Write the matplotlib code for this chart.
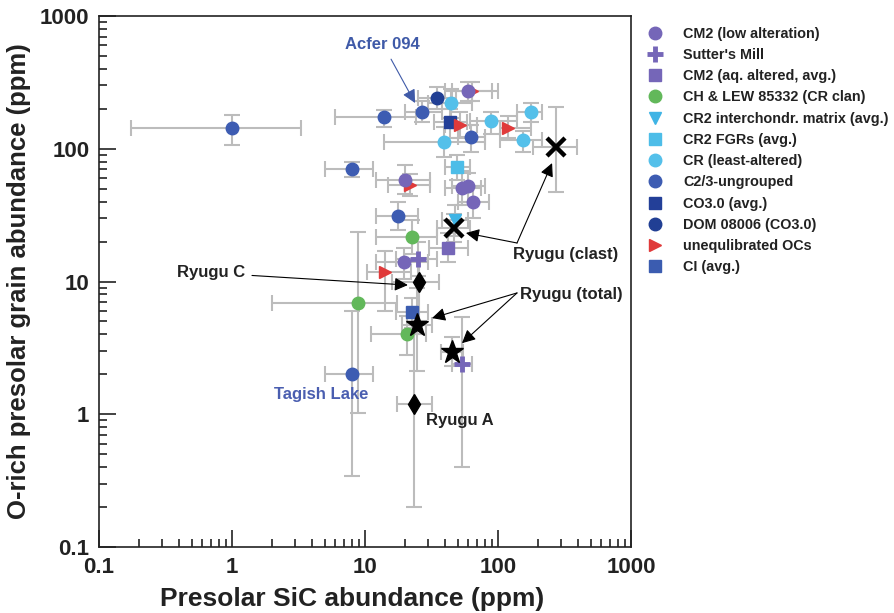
# Presolar O-rich grain vs SiC abundance (log-log) with Ryugu samples

import numpy as np
import matplotlib.pyplot as plt

plt.rcParams['font.family'] = ['Liberation Sans', 'DejaVu Sans']
plt.rcParams['font.weight'] = 'bold'

# Datos: (SiC, O-rich, SiC_min, SiC_max, O_min, O_max)  ppm
cm2_low = [(60, 272, 40, 100, 230, 320), (20, 58, 12, 31, 46, 76),
           (54, 51, 40, 75, 38, 68), (60, 52, 45, 80, 40, 66),
           (65, 40, 50, 85, 30, 52), (19.7, 14, 12, 30, 10.5, 18)]
sutters_mill = [(25, 14.8, 17, 35, 11, 20), (54, 2.4, 45, 64, 0.4, 5.4)]
cm2_aq = [(42, 17.9, 30.5, 60, 14, 23)]
ch_lew = [(22.6, 21.6, 12, 35, 16, 29), (8.9, 6.9, 2.0, 17.4, 1.02, 23.5),
          (20.7, 4.0, 11, 29, 2.8, 5.5)]
cr2_matrix = [(47.5, 29, 38, 60, 22, 38)]
cr2_fgr = [(49, 73, 40, 62, 58, 90)]
cr_least = [(44, 221, 30, 64, 170, 280), (39, 112, 14, 80, 87, 146),
            (89, 162, 62, 140, 130, 190), (177, 189, 140, 215, 158, 220),
            (154, 116, 103, 215, 95, 135)]
c23_ungr = [(1.0, 143, 0.174, 3.3, 107, 180), (13.9, 173, 5.9, 24, 146, 196),
            (26.8, 189, 20, 38, 160, 230), (8.0, 70, 5.0, 11.5, 61, 80),
            (17.7, 31, 12, 25, 24.5, 40), (8.0, 2.0, 5.0, 11.5, 0.34, 6),
            (63, 122, 50, 80, 95, 150)]
co30_avg = [(43.6, 159, 33, 58, 120, 200)]
dom08006 = [(35, 241, 25, 48, 200, 290)]
uocs = [(64, 270, 45, 90, 230, 320), (52, 151, 40, 70, 120, 190),
        (119, 143, 103, 177, 120, 175), (21.8, 53, 15, 31, 44, 64),
        (14.1, 11.8, 10.3, 22, 6, 17)]
ci_avg = [(22.6, 5.9, 17, 30, 4.5, 7.5)]

ryugu_clast = [(273, 103, 183, 393, 47, 206), (46.7, 25.3, 35, 62, 20, 32)]
ryugu_total = [(24.6, 4.7, 19, 32, 2.1, 9), (45, 2.94, 37, 55, 2.3, 3.8)]
ryugu_c = [(25.5, 9.9, 16, 36, 5, 15)]
ryugu_a = [(23.4, 1.19, 17.4, 31.9, 0.2, 4)]

ticks = [0.1, 1, 10, 100, 1000]
tick_labels = ['0.1', '1', '10', '100', '1000']

gris = '#bcbcbc'
texto = '#222222'

fig = plt.figure(figsize=(8.94, 6.13), dpi=100)
ax = fig.add_axes([99/894, 1-547/613, 532/894, 531/613])


def dibujar(filas, marker, color, label, ms=9, z=3, **kw):
    a = np.array(filas, dtype=float)
    x, y = a[:, 0], a[:, 1]
    xerr = [x - a[:, 2], a[:, 3] - x]
    yerr = [y - a[:, 4], a[:, 5] - y]
    ax.errorbar(x, y, xerr=xerr, yerr=yerr, fmt='none', ecolor=gris,
                elinewidth=1.5, capsize=6, capthick=1.5, zorder=1)
    ax.plot(x, y, ls='none', marker=marker, color=color, ms=ms,
            label=label, zorder=z, **kw)


dibujar(cr_least, 'o', '#54c0ea', 'CR (least-altered)')
dibujar(cr2_fgr, 's', '#4dbde8', 'CR2 FGRs (avg.)')
dibujar(cr2_matrix, 'v', '#3fb4e5', 'CR2 interchondr. matrix (avg.)')
dibujar(c23_ungr, 'o', '#3d5cb2', 'C2/3-ungrouped')
dibujar(co30_avg, 's', '#233f98', 'CO3.0 (avg.)')
dibujar(dom08006, 'o', '#213f94', 'DOM 08006 (CO3.0)')
dibujar(uocs, '>', '#e03a3a', 'unequlibrated OCs')
dibujar(cm2_low, 'o', '#7566b8', 'CM2 (low alteration)')
dibujar(sutters_mill, '+', '#7566b8', "Sutter's Mill", ms=12, mew=3.5)
dibujar(cm2_aq, 's', '#7566b8', 'CM2 (aq. altered, avg.)')
dibujar(ch_lew, 'o', '#62b85a', 'CH & LEW 85332 (CR clan)')
dibujar(ci_avg, 's', '#3b5cb0', 'CI (avg.)')

dibujar(ryugu_clast, 'x', 'k', None, ms=13, mew=3.2, z=5)
dibujar(ryugu_total, '*', 'k', None, ms=17, z=5)
dibujar(ryugu_c, 'd', 'k', None, ms=10, z=5)
dibujar(ryugu_a, 'd', 'k', None, ms=10, z=5)

ax.set_xscale('log')
ax.set_yscale('log')
ax.set_xlim(0.1, 1000)
ax.set_ylim(0.1, 1000)
ax.set_xticks(ticks)
ax.set_xticklabels(tick_labels)
ax.set_yticks(ticks)
ax.set_yticklabels(tick_labels)
ax.tick_params(which='both', direction='in', top=False, right=False,
               labelsize=16, colors=texto, width=1.2)
ax.tick_params(which='major', length=12, pad=7)
ax.tick_params(which='minor', length=6)
for s in ax.spines.values():
    s.set_linewidth(1.2)
    s.set_color(texto)

ax.set_xlabel('Presolar SiC abundance (ppm)', fontsize=19,
              fontweight='bold', color=texto)
ax.xaxis.set_label_coords(0.476, -0.075)
ax.set_ylabel('O-rich presolar grain abundance (ppm)', fontsize=18.5,
              fontweight='bold', color=texto, labelpad=6)

# Anotaciones
flecha = dict(arrowstyle='-|>', lw=0.8, color='k', mutation_scale=20,
              shrinkA=0, shrinkB=0)
ax.annotate('Acfer 094', xy=(23.8, 221), xytext=(13.6, 615),
            ha='center', va='center', fontsize=12, color='#3f5aa8',
            arrowprops=dict(flecha, color='#3f5aa8', shrinkA=4))
ax.text(4.67, 1.42, 'Tagish Lake', ha='center', va='center', fontsize=12,
        color='#4a5eb0')
ax.text(51.8, 0.90, 'Ryugu A', ha='center', va='center', fontsize=12,
        color=texto)
ax.annotate('Ryugu C', xy=(21, 9.4), xytext=(0.695, 11.6), ha='center',
            va='center', fontsize=12, color=texto,
            arrowprops=dict(flecha, shrinkA=3))
ax.text(324, 16.1, 'Ryugu (clast)', ha='center', va='center', fontsize=12,
        color=texto)
for punta in [(57.4, 23.2), (255, 78)]:
    ax.annotate('', xy=punta, xytext=(139, 19.5), arrowprops=flecha)
ax.text(354, 8.0, 'Ryugu (total)', ha='center', va='center', fontsize=12,
        color=texto)
for punta in [(31.9, 5.3), (53.6, 3.43)]:
    ax.annotate('', xy=punta, xytext=(139, 8.2), arrowprops=flecha)

# Leyenda
orden = ['CM2 (low alteration)', "Sutter's Mill", 'CM2 (aq. altered, avg.)',
         'CH & LEW 85332 (CR clan)', 'CR2 interchondr. matrix (avg.)',
         'CR2 FGRs (avg.)', 'CR (least-altered)', 'C2/3-ungrouped',
         'CO3.0 (avg.)', 'DOM 08006 (CO3.0)', 'unequlibrated OCs', 'CI (avg.)']
h, l = ax.get_legend_handles_labels()
d = dict(zip(l, h))
fig.legend([d[k] for k in orden], orden, loc='upper left',
           bbox_to_anchor=(641/894, 1-21/613), frameon=False, fontsize=10.4,
           labelspacing=0.5, handlelength=1.2, handletextpad=1.3,
           borderaxespad=0, labelcolor=texto)

plt.savefig('out.png', dpi=100)
